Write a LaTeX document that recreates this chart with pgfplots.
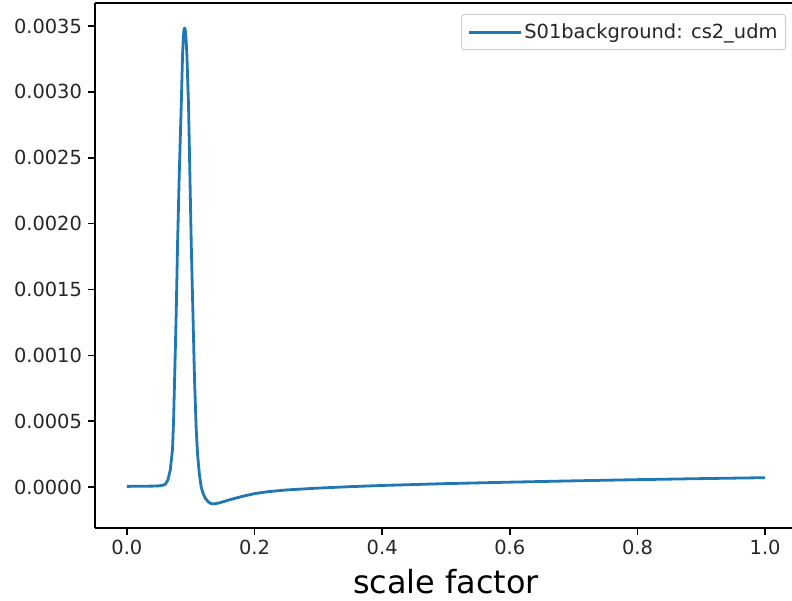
\documentclass[border=0pt]{standalone}
\usepackage{pgfplots}
\pgfplotsset{compat=1.18}
\usepackage{fontspec}
\setmainfont{DejaVu Sans}
\definecolor{mplblue}{HTML}{1F77B4}

\pgfplotstableread{
a        cs2
0.000    0.000005
0.020    0.000006
0.040    0.000007
0.050    0.000009
0.055    0.000012
0.060    0.000020
0.064    0.000050
0.068    0.000130
0.0715   0.000290
0.0732   0.000520
0.0747   0.000810
0.0773   0.001330
0.0794   0.001850
0.0820   0.002370
0.0851   0.002890
0.0872   0.003280
0.0885   0.003420
0.0896   0.003475
0.0905   0.003485
0.0914   0.003470
0.0926   0.003410
0.0940   0.003280
0.0966   0.002890
0.0987   0.002370
0.1008   0.001850
0.1034   0.001330
0.1060   0.000810
0.1085   0.000450
0.1107   0.000250
0.1135   0.000100
0.1164   0.000000
0.1195  -0.000050
0.1227  -0.000085
0.1280  -0.000115
0.1320  -0.000126
0.1358  -0.000128
0.1450  -0.000120
0.1600  -0.000098
0.1800  -0.000072
0.2000  -0.000050
0.2200  -0.000036
0.2500  -0.000022
0.3000  -0.000008
0.3500   0.000003
0.4000   0.000012
0.5000   0.000026
0.6000   0.000037
0.7000   0.000047
0.8000   0.000056
0.9000   0.000064
1.0000   0.000071
}\cstable

\begin{document}
\begin{tikzpicture}
\begin{axis}[
  at={(0,0)}, anchor=south west,
  scale only axis,
  width=702bp, height=525bp,
  xmin=-0.05, xmax=1.05,
  ymin=-0.000311, ymax=0.003675,
  axis x line*=bottom, axis y line*=left,
  xtick={0,0.2,0.4,0.6,0.8,1.0},
  ytick={0,0.0005,0.001,0.0015,0.002,0.0025,0.003,0.0035},
  scaled y ticks=false,
  scaled x ticks=false,
  xticklabel style={yshift=-2bp, /pgf/number format/.cd, fixed, fixed zerofill, precision=1},
  yticklabel style={xshift=-3bp, /pgf/number format/.cd, fixed, fixed zerofill, precision=4},
  /pgf/number format/assume math mode=true,
  tick label style={font=\fontsize{19.5}{23}\selectfont, text=black!85},
  tick align=outside,
  major tick length=6.5bp,
  every tick/.style={line width=1.5bp, black},
  axis line style={line width=1.5bp, black, -},
  xlabel={scale factor},
  xlabel style={font=\fontsize{32}{36}\selectfont, yshift=-8bp},
  legend style={
    at={(1,1)}, anchor=north east, xshift=-11bp, yshift=-11bp,
    draw=black!20, line width=1bp, rounded corners=3bp,
    font=\fontsize{19.5}{23}\selectfont, text=black!85,
    inner xsep=6bp, inner ysep=7.5bp,
  },
  legend cell align=left,
  legend image code/.code={\draw[#1] (0bp,0bp) -- (42bp,0bp); \path (0bp,0bp) -- (52bp,0bp);},
]
\addplot[mplblue, line width=2.8bp, line join=round] table[x=a, y=cs2] {\cstable};
\addlegendentry{S01background: cs2\_udm}
% top frame line
\draw[line width=1.5bp, black, line cap=rect] (rel axis cs:0,1) -- (rel axis cs:1,1);
\end{axis}
\pgfresetboundingbox
\useasboundingbox (-95bp,-73bp) rectangle (697bp,528bp);
\end{tikzpicture}
\end{document}
